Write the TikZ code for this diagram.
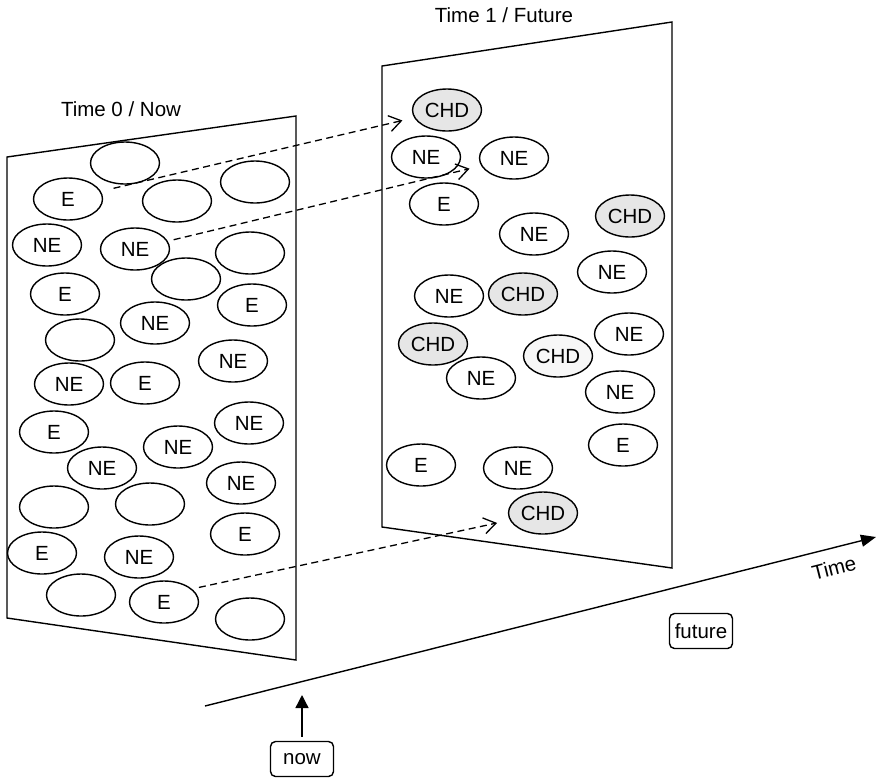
\documentclass[tikz,border=0pt]{standalone}
\usepackage{fontspec}
\setmainfont{Liberation Sans}
\usetikzlibrary{shapes.geometric,arrows.meta}
\definecolor{chdgray}{RGB}{230,230,230}
\definecolor{chdlight}{RGB}{247,247,247}
\begin{document}
\begin{tikzpicture}[x=1pt,y=-1pt,
  txt/.style={font=\fontsize{20.5}{24}\selectfont},
  ov/.style={ellipse, draw, line width=1.4pt, minimum width=69pt, minimum height=42pt, inner sep=0pt, txt},
  chd/.style={ov, fill=chdgray},
  chdl/.style={ov, fill=chdlight},
  panel/.style={draw, line width=1.4pt},
  lbl/.style={draw, line width=1.4pt, rounded corners=5pt, minimum width=63pt, minimum height=35pt, inner sep=2pt, txt},
  dasharrow/.style={line width=1.3pt, dash pattern=on 7pt off 4.5pt, -{Straight Barb[length=12pt,width=16pt]}},
  solidarrow/.style={line width=1.4pt, -{Triangle[length=14pt,width=12pt]}}
]
\useasboundingbox (0,0) rectangle (877,780);

% panels
\draw[panel] (7,157) -- (296,116) -- (296,660) -- (7,618) -- cycle;
\draw[panel] (382,66) -- (672,22) -- (672,568) -- (382,527) -- cycle;

% titles
\node[txt] (title0) at (121,109) {Time 0 / Now};
\node[txt] (title1) at (504,15) {Time 1 / Future};

% left panel ellipses
\node[ov] (l1) at (125,163) {};
\node[ov] (l2) at (68,199) {E};
\node[ov] (l3) at (177,201) {};
\node[ov] (l4) at (255,182) {};
\node[ov] (l5) at (47,245) {NE};
\node[ov] (l6) at (135,249) {NE};
\node[ov] (l7) at (250,253) {};
\node[ov] (l8) at (186,279) {};
\node[ov] (l9) at (65,294) {E};
\node[ov] (l10) at (252,305) {E};
\node[ov] (l11) at (155,323) {NE};
\node[ov] (l12) at (80,340) {};
\node[ov] (l13) at (233,361) {NE};
\node[ov] (l14) at (69,384) {NE};
\node[ov] (l15) at (145,383) {E};
\node[ov] (l16) at (54,432) {E};
\node[ov] (l17) at (249,423) {NE};
\node[ov] (l18) at (178,447) {NE};
\node[ov] (l19) at (102,468) {NE};
\node[ov] (l20) at (241,483) {NE};
\node[ov] (l21) at (54,507) {};
\node[ov] (l22) at (150,504) {};
\node[ov] (l23) at (245,534) {E};
\node[ov] (l24) at (42,553) {E};
\node[ov] (l25) at (139,557) {NE};
\node[ov] (l26) at (81,595) {};
\node[ov] (l27) at (164,602) {E};
\node[ov] (l28) at (250,619) {};

% right panel ellipses
\node[chd] (r1) at (447,110) {CHD};
\node[ov] (r2) at (426,157) {NE};
\node[ov] (r3) at (514,158) {NE};
\node[ov] (r4) at (444,204) {E};
\node[chd] (r5) at (630,216) {CHD};
\node[ov] (r6) at (534,234) {NE};
\node[ov] (r7) at (612,272) {NE};
\node[ov] (r8) at (449,296) {NE};
\node[chd] (r9) at (523,294) {CHD};
\node[chd] (r10) at (433,344) {CHD};
\node[ov] (r11) at (629,334) {NE};
\node[chdl] (r12) at (558,356) {CHD};
\node[ov] (r13) at (481,378) {NE};
\node[ov] (r14) at (620,392) {NE};
\node[ov] (r15) at (623,445) {E};
\node[ov] (r16) at (421,465) {E};
\node[ov] (r17) at (518,468) {NE};
\node[chd] (r18) at (543,513) {CHD};

% dashed transitions
\draw[dasharrow, shorten <=13pt, shorten >=12pt] (l2) -- (r1);
\draw[dasharrow, shorten <=6pt, shorten >=12pt] (l6) -- (r3);
\draw[dasharrow, shorten <=7pt, shorten >=13pt] (l27.25) -- (r18);

% time axis
\coordinate (t0) at (205,706);
\coordinate (t1) at (876,537);
\draw[solidarrow, -{Triangle[length=15pt,width=12pt]}] (t0) -- (t1);
\node[txt, rotate=14.2] (timelbl) at (834,568) {Time};

% labels
\node[lbl] (now) at (302,759) {now};
\node[lbl] (future) at (701,631) {future};
\coordinate (nowtip) at (302,695);
\draw[solidarrow, -{Triangle[length=13pt,width=13pt]}, shorten <=4pt] (now.north) -- (nowtip);
\end{tikzpicture}
\end{document}
